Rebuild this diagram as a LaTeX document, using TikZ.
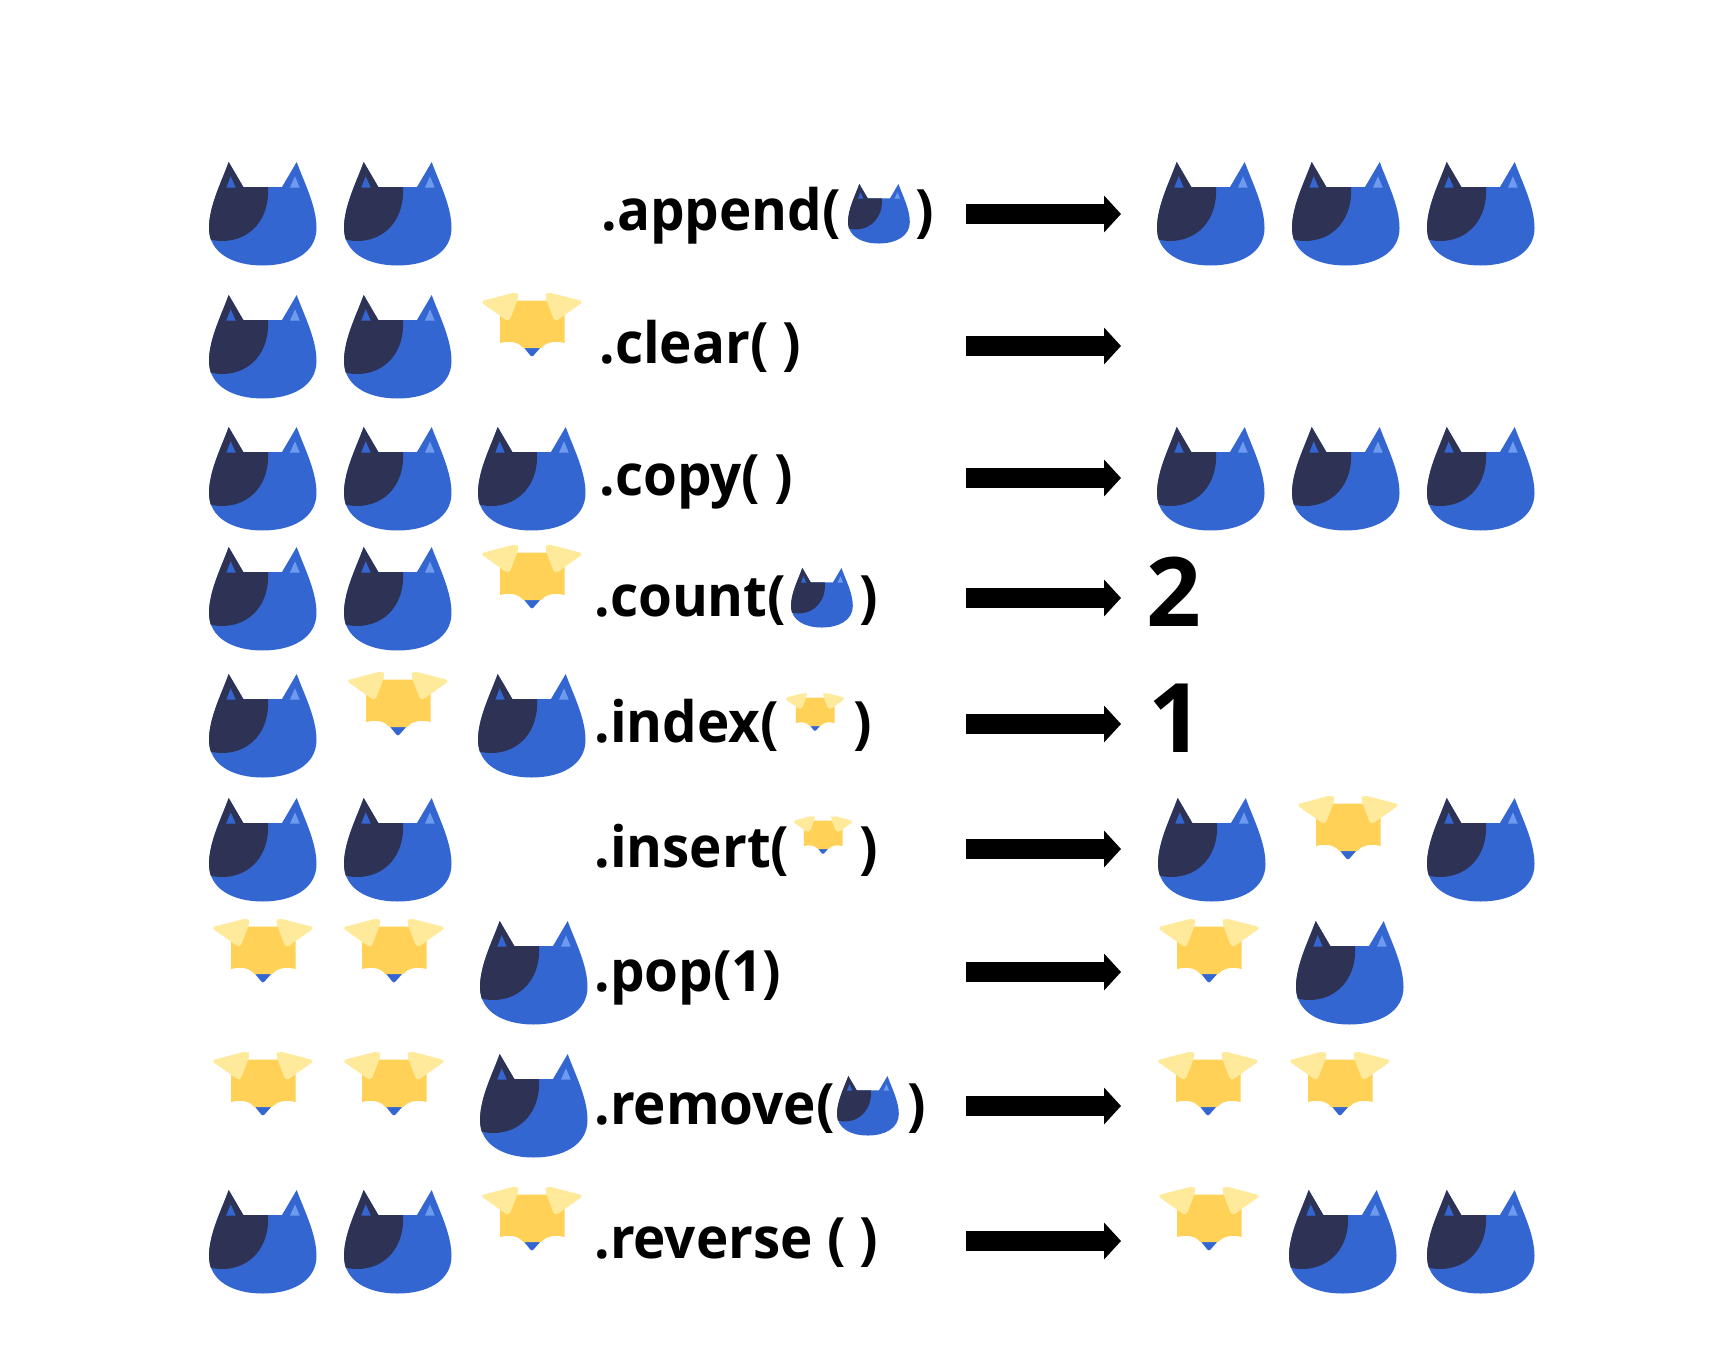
\documentclass[tikz,border=0pt]{standalone}
\usepackage{fontspec}
\setmainfont{Open Sans}
\newfontfamily\lblfont[FakeStretch=0.96]{Open Sans}
\usetikzlibrary{arrows.meta}
\definecolor{catblue}{HTML}{3366D1}
\definecolor{catdark}{HTML}{2E3355}
\definecolor{catlight}{HTML}{6E9BF0}
\definecolor{dogbody}{HTML}{FFD257}
\definecolor{dogear}{HTML}{FFEA9B}
\tikzset{
  cat/.pic={
    \fill[catblue] (19.7,0) -- (34.3,25) -- (73,25) -- (87.7,0)
      .. controls (95,20) and (107.5,44) .. (107.5,66)
      .. controls (107.5,91) and (83,103.5) .. (53.5,103.5)
      .. controls (24,103.5) and (0,91) .. (0,66)
      .. controls (0,44) and (12.5,20) .. (19.7,0) -- cycle;
    \fill[catdark] (19.7,0) -- (34.3,25) -- (59,25)
      .. controls (61,56) and (42,79) .. (13,79)
      .. controls (9,79) and (5,78.5) .. (1.7,77.5)
      .. controls (0.5,73) and (0,70) .. (0,66)
      .. controls (0,44) and (12.5,20) .. (19.7,0) -- cycle;
    \fill[catblue] (21.7,14.3) -- (17.3,25.6) -- (26.7,25.6) -- cycle;
    \fill[catlight] (86,14.3) -- (81,25.6) -- (90.7,25.6) -- cycle;
  },
  dog/.pic={
    \fill[catblue] (41.5,54) -- (59,54) -- (51.5,62.5)
      .. controls (50.5,63.6) and (49.3,63.6) .. (48.3,62.5) -- cycle;
    \fill[dogbody] (18,7.7) -- (82.5,7.7) -- (82.5,50)
      .. controls (71.5,47) and (63.5,50) .. (59,55) -- (41.5,55)
      .. controls (37.5,50) and (29.5,47) .. (18,50) -- cycle;
    \fill[dogear, rounded corners=2pt] (-2,8.5) -- (34.5,-1) -- (37,3) -- (27,29) -- cycle;
    \fill[dogear, rounded corners=2pt] (101.8,8.5) -- (65.3,-1) -- (62.8,3) -- (72.8,29) -- cycle;
  },
  lbl/.style={anchor=base west, inner sep=0pt, font=\fontsize{28.5}{34}\lblfont\bfseries},
  bignum/.style={anchor=base west, inner sep=0pt, font=\fontsize{48}{56}\selectfont\bfseries},
  maparrow/.style={line width=10pt, -{Triangle[length=8.5pt,width=18pt]}, shorten >=0pt},
  small/.style={scale=.575},
  smalldog/.style={scale=.6}
}
\begin{document}
\begin{tikzpicture}[x=.5pt,y=-.5pt]
\path[use as bounding box, fill=white] (0,0) rectangle (1713,1359);
% row 1
\pic (a1) at (209,162) {cat}; \pic (a2) at (344,162) {cat};
\node[lbl] (t1) at (601,230) {.append(};
\pic[small] (t1i) at (848,184) {cat};
\node[lbl] (t1c) at (915,230) {)};
\coordinate (s1) at (966,214); \coordinate (e1) at (1121,214);
\draw[maparrow] (s1) -- (e1);
\pic (a3) at (1157,162) {cat}; \pic (a4) at (1292,162) {cat}; \pic (a5) at (1427,162) {cat};
% row 2
\pic (b1) at (209,295) {cat}; \pic (b2) at (344,295) {cat}; \pic (b3) at (482,293) {dog};
\node[lbl] (t2) at (599,363) {.clear( )};
\coordinate (s2) at (966,346); \coordinate (e2) at (1121,346);
\draw[maparrow] (s2) -- (e2);
% row 3
\pic (c1) at (209,427) {cat}; \pic (c2) at (344,427) {cat}; \pic (c3) at (478,427) {cat};
\node[lbl] (t3) at (599,495) {.copy( )};
\coordinate (s3) at (966,478); \coordinate (e3) at (1121,478);
\draw[maparrow] (s3) -- (e3);
\pic (c4) at (1157,427) {cat}; \pic (c5) at (1292,427) {cat}; \pic (c6) at (1427,427) {cat};
% row 4
\pic (d1) at (209,547) {cat}; \pic (d2) at (344,547) {cat}; \pic (d3) at (482,545) {dog};
\node[lbl] (t4) at (594,616) {.count(};
\pic[small] (t4i) at (791,568) {cat};
\node[lbl] (t4c) at (859,616) {)};
\coordinate (s4) at (966,598); \coordinate (e4) at (1121,598);
\draw[maparrow] (s4) -- (e4);
\node[bignum] (n4) at (1146,626) {2};
% row 5
\pic (f1) at (209,674) {cat}; \pic (f2) at (348,672) {dog}; \pic (f3) at (478,674) {cat};
\node[lbl] (t5) at (594,742) {.index(};
\pic[smalldog] (t5i) at (785,693) {dog};
\node[lbl] (t5c) at (853,742) {)};
\coordinate (s5) at (966,724); \coordinate (e5) at (1121,724);
\draw[maparrow] (s5) -- (e5);
\node[bignum] (n5) at (1148,752) {1};
% row 6
\pic (g1) at (209,798) {cat}; \pic (g2) at (344,798) {cat};
\node[lbl] (t6) at (594,867) {.insert(};
\pic[smalldog] (t6i) at (793,816) {dog};
\node[lbl] (t6c) at (859,867) {)};
\coordinate (s6) at (966,849); \coordinate (e6) at (1121,849);
\draw[maparrow] (s6) -- (e6);
\pic (g3) at (1158,798) {cat}; \pic (g4) at (1298,796) {dog}; \pic (g5) at (1427,798) {cat};
% row 7
\pic (h1) at (213,919) {dog}; \pic (h2) at (344,919) {dog}; \pic (h3) at (480,921) {cat};
\node[lbl] (t7) at (594,991) {.pop(1)};
\coordinate (s7) at (966,972); \coordinate (e7) at (1121,972);
\draw[maparrow] (s7) -- (e7);
\pic (h4) at (1159,919) {dog}; \pic (h5) at (1296,921) {cat};
% row 8
\pic (k1) at (213,1052) {dog}; \pic (k2) at (344,1052) {dog}; \pic (k3) at (480,1054) {cat};
\node[lbl] (t8) at (594,1124) {.remove(};
\pic[small] (t8i) at (837,1076) {cat};
\node[lbl] (t8c) at (907,1124) {)};
\coordinate (s8) at (966,1106); \coordinate (e8) at (1121,1106);
\draw[maparrow] (s8) -- (e8);
\pic (k4) at (1158,1052) {dog}; \pic (k5) at (1290,1052) {dog};
% row 9
\pic (m1) at (209,1190) {cat}; \pic (m2) at (344,1190) {cat}; \pic (m3) at (482,1187) {dog};
\node[lbl] (t9) at (594,1258) {.reverse ( )};
\coordinate (s9) at (966,1241); \coordinate (e9) at (1121,1241);
\draw[maparrow] (s9) -- (e9);
\pic (m4) at (1159,1187) {dog}; \pic (m5) at (1289,1190) {cat}; \pic (m6) at (1427,1190) {cat};
\end{tikzpicture}
\end{document}
